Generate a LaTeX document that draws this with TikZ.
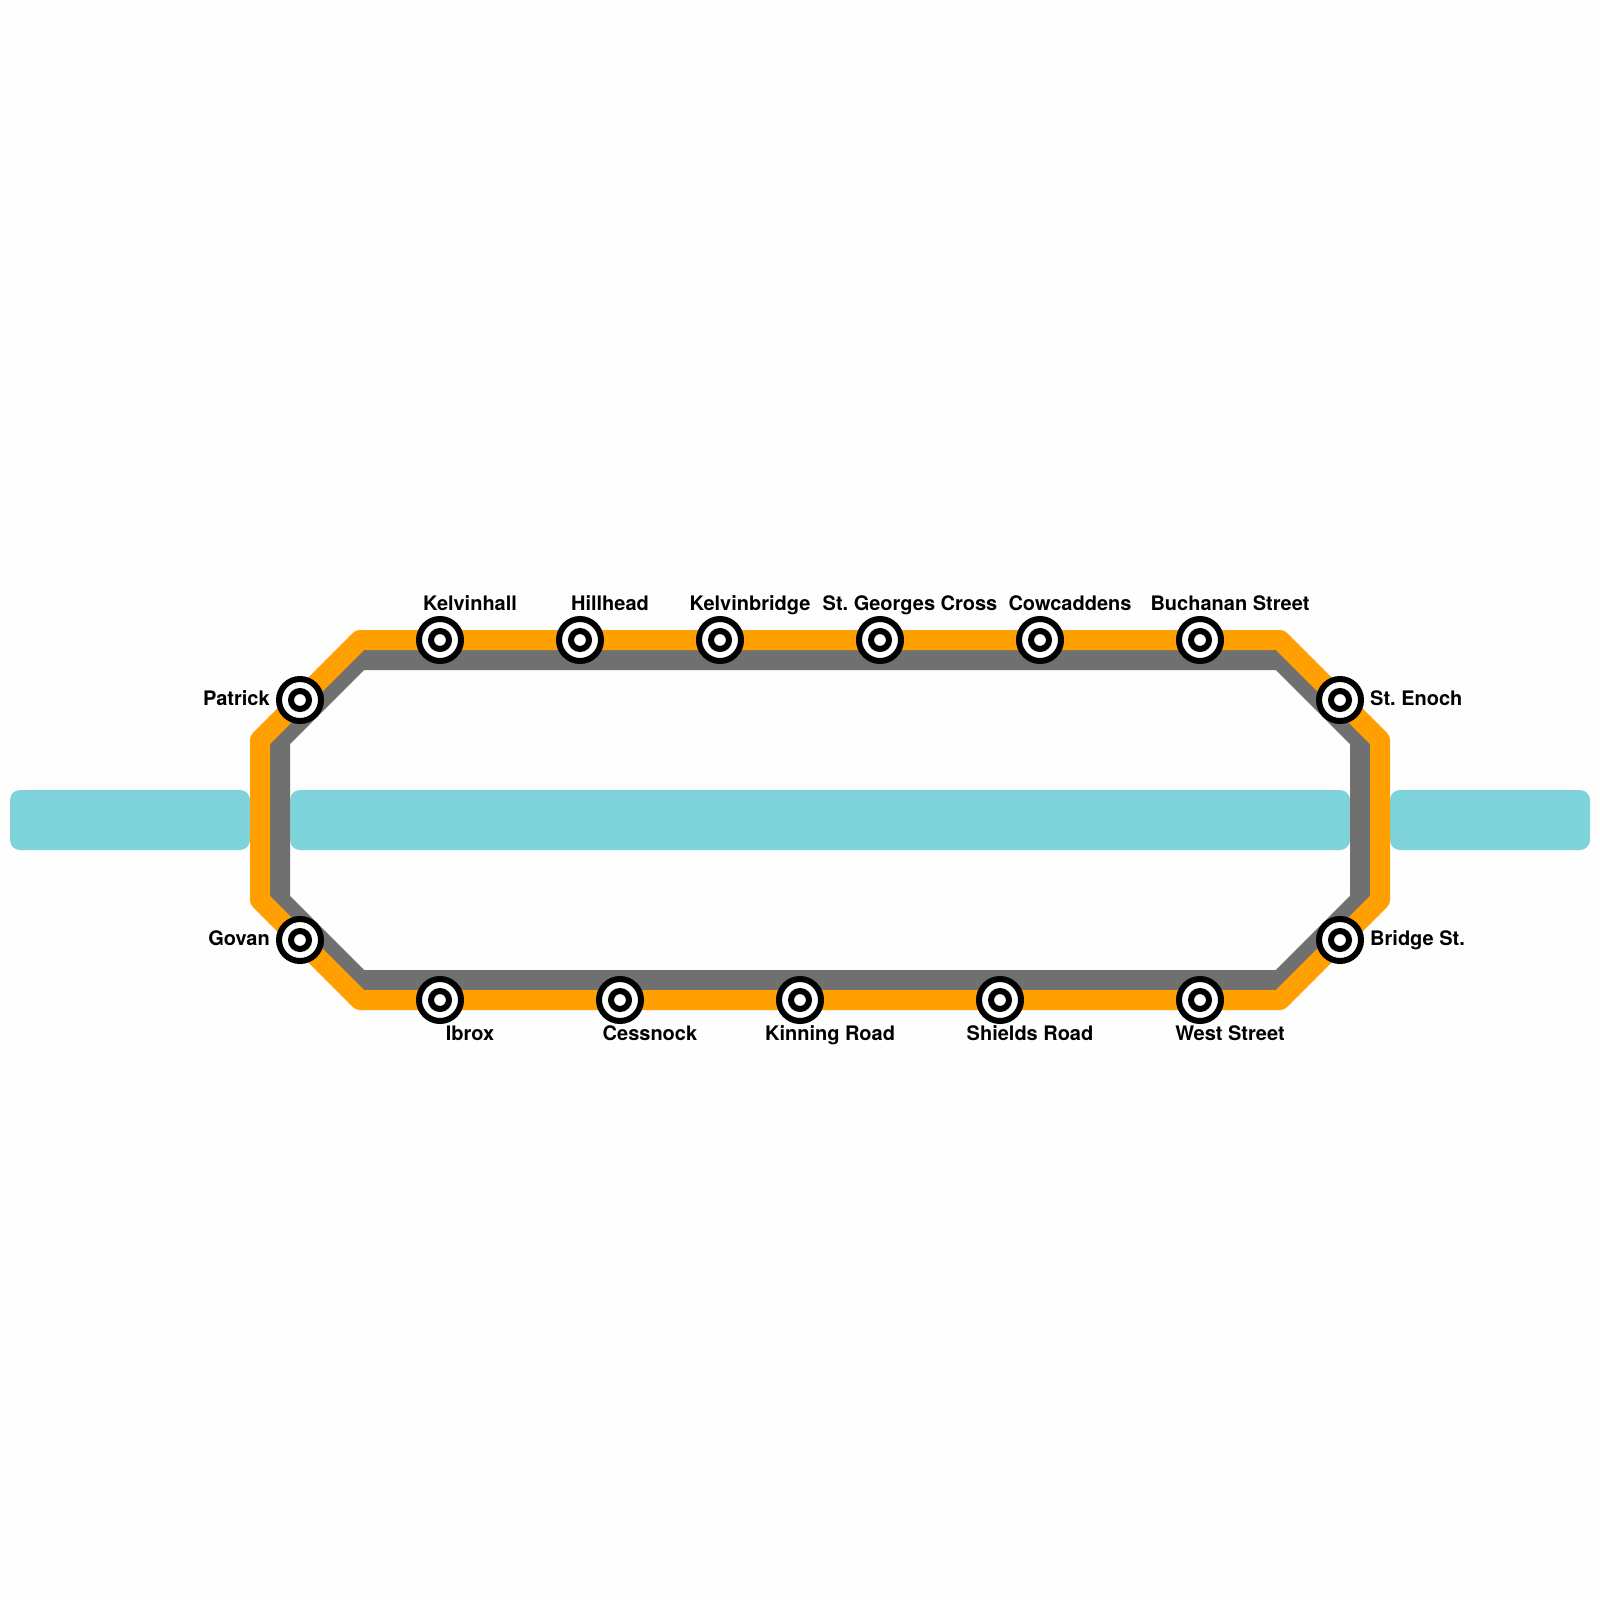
\documentclass[tikz,border=0pt]{standalone}
\usepackage{fontspec}
\setmainfont{TeX Gyre Heros}
\frenchspacing
\definecolor{river}{HTML}{7FD3DB}
\definecolor{outerline}{HTML}{FFA000}
\definecolor{innerline}{HTML}{707070}
\definecolor{paper}{HTML}{FEFEFE}
\tikzset{
  riverbox/.style={fill=river,rounded corners=10pt,draw=none},
  linepath/.style={line width=20pt,line join=round},
  stationring/.style={circle,draw=black,fill=white,line width=6pt,minimum size=42pt,inner sep=0pt,outer sep=0pt},
  stationcore/.style={circle,draw=black,fill=white,line width=6pt,minimum size=18pt,inner sep=0pt,outer sep=0pt},
  lab/.style={font=\bfseries\fontsize{20}{24}\selectfont,text=black,inner sep=0pt},
}
\newcommand{\stationat}[3]{%
  \node[stationring] (#1) at (#2,#3) {};
  \node[stationcore] (#1c) at (#2,#3) {};
}
\begin{document}
\begin{tikzpicture}[x=1pt,y=-1pt]
\useasboundingbox (0,0) rectangle (1600,1600);
\fill[paper] (0,0) rectangle (1600,1600);
\fill[riverbox] (10,790) rectangle (250,850);
\fill[riverbox] (290,790) rectangle (1350,850);
\fill[riverbox] (1390,790) rectangle (1590,850);
\draw[linepath,innerline] (280,740) -- (360,660) -- (1280,660) -- (1360,740) -- (1360,900) -- (1280,980) -- (360,980) -- (280,900) -- cycle;
\draw[linepath,outerline] (260,740) -- (360,640) -- (1280,640) -- (1380,740) -- (1380,900) -- (1280,1000) -- (360,1000) -- (260,900) -- cycle;
\stationat{s1}{440}{640}
\stationat{s2}{580}{640}
\stationat{s3}{720}{640}
\stationat{s4}{880}{640}
\stationat{s5}{1040}{640}
\stationat{s6}{1200}{640}
\stationat{s7}{1340}{700}
\stationat{s8}{1340}{940}
\stationat{s9}{1200}{1000}
\stationat{s10}{1000}{1000}
\stationat{s11}{800}{1000}
\stationat{s12}{620}{1000}
\stationat{s13}{440}{1000}
\stationat{s14}{300}{940}
\stationat{s15}{300}{700}
\node[lab,anchor=base] (l1) at (470,610) {Kelvinhall};
\node[lab,anchor=base] (l2) at (610,610) {Hillhead};
\node[lab,anchor=base] (l3) at (750,610) {Kelvinbridge};
\node[lab,anchor=base] (l4) at (910,610) {St. Georges Cross};
\node[lab,anchor=base] (l5) at (1070,610) {Cowcaddens};
\node[lab,anchor=base] (l6) at (1230,610) {Buchanan Street};
\node[lab,anchor=base west] (l7) at (1370,705) {St. Enoch};
\node[lab,anchor=base west] (l8) at (1370,945) {Bridge St.};
\node[lab,anchor=base] (l9) at (1230,1040) {West Street};
\node[lab,anchor=base] (l10) at (1030,1040) {Shields Road};
\node[lab,anchor=base] (l11) at (830,1040) {Kinning Road};
\node[lab,anchor=base] (l12) at (650,1040) {Cessnock};
\node[lab,anchor=base] (l13) at (470,1040) {Ibrox};
\node[lab,anchor=base east] (l14) at (270,945) {Govan};
\node[lab,anchor=base east] (l15) at (270,705) {Patrick};
\end{tikzpicture}
\end{document}
